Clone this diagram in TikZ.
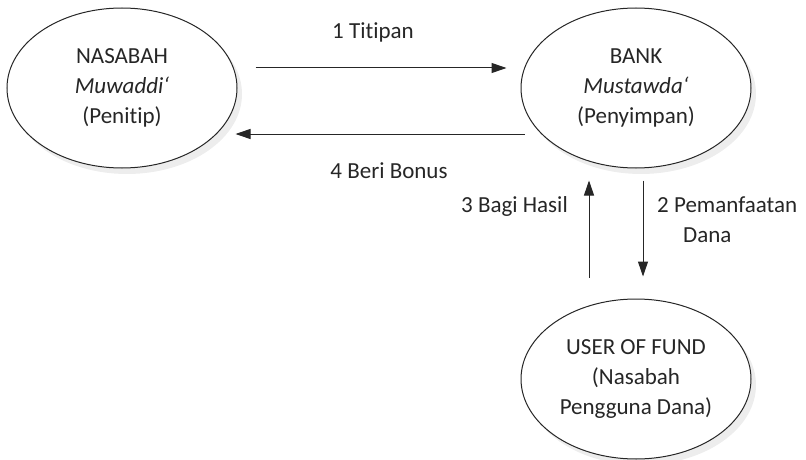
\documentclass[tikz,border=0pt]{standalone}
\usepackage{fontspec}
\setmainfont{Carlito}[Ligatures=NoCommon]
\usepackage{tikz}
\usetikzlibrary{shapes,arrows.meta,shadows}

\begin{document}
\begin{tikzpicture}[x=1pt,y=-1pt,
                every path/.style={>={Triangle[length=15pt,width=10pt]}},
                every node/.style={text=black!85,font=\fontsize{23}{30}\selectfont},
                party/.style={draw=black!85,line width=1pt,ellipse,minimum width=230pt,minimum height=160pt,
                  inner sep=0pt,align=center,fill=white,
                  drop shadow={shadow xshift=5pt,shadow yshift=-6pt,opacity=1,fill=black!7}},
                lbl/.style={inner sep=0pt},
                flow/.style={->,draw=black!85,line width=1pt}]
  \useasboundingbox (0,0) rectangle (806,460);
  \node[party]            (nasabah) at (122,88)  {NASABAH\\ \textit{Muwaddi‘}\\ (Penitip)};
  \node[party]            (bank)    at (636,88)  {BANK\\ \textit{Mustawda‘}\\ (Penyimpan)};
  \node[party]            (user)    at (636,379) {USER OF FUND\\ (Nasabah\\ Pengguna Dana)};
  \node[lbl,anchor=base]       (titipan) at (373,39)  {1 Titipan};
  \node[lbl,anchor=base]       (bonus)   at (389,178) {4 Beri Bonus};
  \node[lbl,anchor=base east]  (bagi)    at (568,212) {3 Bagi Hasil};
  \node[lbl,anchor=base west]  (manfaat) at (657,212) {2 Pemanfaatan};
  \node[lbl,anchor=base west]  (dana)    at (683,242) {Dana};
  \draw[flow] ([xshift=18pt,yshift=20pt]nasabah.east) -- ([xshift=-14pt,yshift=20pt]bank.west);
  \draw[flow] ([xshift=4pt,yshift=-46pt]bank.west) -- ([xshift=-2pt,yshift=-46pt]nasabah.east);
  \draw[flow] ([xshift=7pt,yshift=-12pt]bank.south) -- ([xshift=7pt,yshift=22pt]user.north);
  \draw[flow] ([xshift=-47pt,yshift=21pt]user.north) -- ([xshift=-47pt,yshift=-12pt]bank.south);
\end{tikzpicture}
\end{document}
